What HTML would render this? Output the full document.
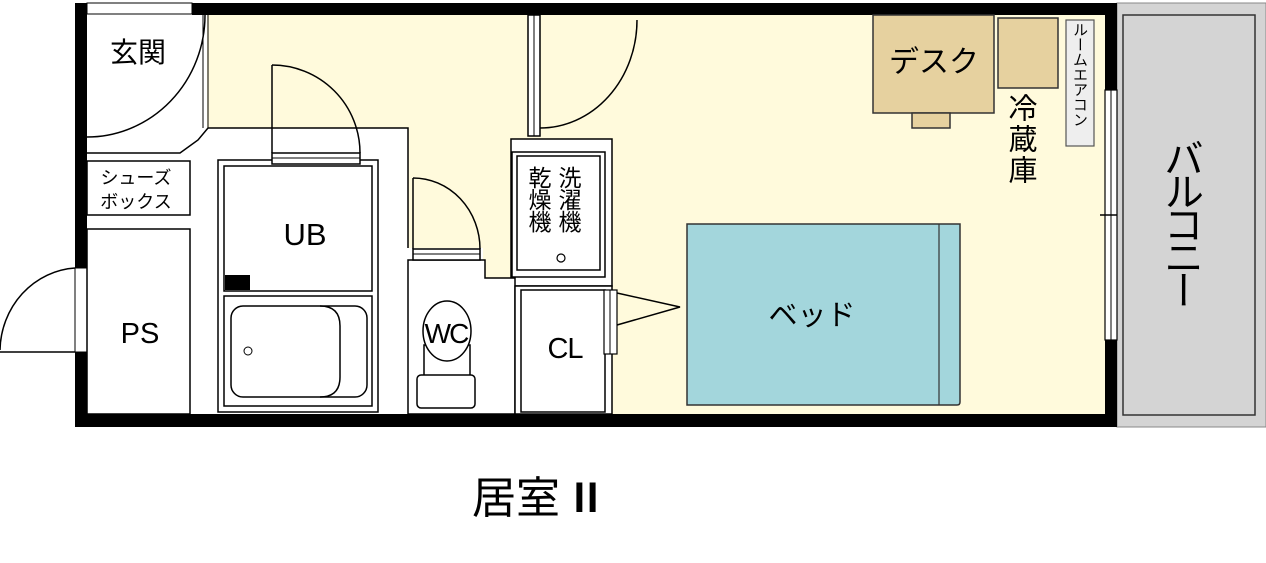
<!DOCTYPE html>
<html><head><meta charset="utf-8"><style>
html,body{margin:0;padding:0;background:#fff;}
body{position:relative;width:1266px;height:563px;overflow:hidden;}
svg{display:block;position:absolute;left:0;top:0;}
text{font-family:"Liberation Sans","Noto Sans CJK JP",sans-serif;fill:#000;}
.v{position:absolute;writing-mode:vertical-rl;text-orientation:upright;font-family:"Noto Sans CJK JP",sans-serif;color:#000;white-space:nowrap;}
</style></head><body>
<svg width="1266" height="563" viewBox="0 0 1266 563" xmlns="http://www.w3.org/2000/svg">
<rect x="1117" y="3" width="149" height="424" fill="#d4d4d4" stroke="#888" stroke-width="1"/>
<rect x="1123" y="15" width="132" height="400" fill="none" stroke="#333" stroke-width="1.5"/>
<rect x="87" y="15" width="1018" height="399" fill="#fffadc"/>
<polygon points="87,15 207,15 207,128 408,128 408,248 483,248 483,278 515,278 515,286 612,286 612,414 87,414" fill="#fff"/>
<polygon points="511,139 612,139 612,286 511,286" fill="#fff" stroke="#000" stroke-width="1.5"/>
<rect x="75" y="3" width="12" height="424" fill="#000"/>
<rect x="192" y="3" width="925" height="12" fill="#000"/>
<rect x="75" y="414" width="1042" height="13" fill="#000"/>
<rect x="1105" y="3" width="12" height="424" fill="#000"/>
<rect x="87" y="3" width="105" height="11" fill="#fff" stroke="#000" stroke-width="1"/>
<rect x="75" y="268" width="12" height="84" fill="#fff" stroke="#000" stroke-width="1"/>
<path d="M75,268 A80,84 0 0 0 0,350" fill="none" stroke="#000" stroke-width="1.5"/>
<line x1="0" y1="352" x2="75" y2="352" stroke="#000" stroke-width="1.5"/>
<path d="M205,15 A118,122 0 0 1 87,137" fill="none" stroke="#000" stroke-width="1.5"/>
<line x1="203" y1="15" x2="203" y2="128" stroke="#000" stroke-width="1"/>
<line x1="208" y1="15" x2="208" y2="128" stroke="#000" stroke-width="1"/>
<polyline points="208,128 198,140 180,153 87,153" fill="none" stroke="#000" stroke-width="1.5"/>
<polyline points="208,128 408,128 408,248" fill="none" stroke="#000" stroke-width="1.5"/>
<text x="138" y="62" font-size="28" text-anchor="middle">玄関</text>
<rect x="87" y="161" width="103" height="54" fill="#fff" stroke="#000" stroke-width="1.5"/>
<text x="136" y="184" font-size="18" text-anchor="middle">シューズ</text>
<text x="136" y="208" font-size="18" text-anchor="middle">ボックス</text>
<rect x="87" y="229" width="103" height="185" fill="#fff" stroke="#000" stroke-width="1.5"/>
<text x="140" y="343" font-size="29" text-anchor="middle">PS</text>
<rect x="218" y="160" width="160" height="252" fill="#fff" stroke="#000" stroke-width="1.5"/>
<rect x="224" y="166" width="148" height="125" fill="#fff" stroke="#000" stroke-width="1.5"/>
<rect x="224" y="296" width="148" height="110" fill="#fff" stroke="#000" stroke-width="1.5"/>
<rect x="231" y="306" width="136" height="91" rx="12" fill="#fff" stroke="#000" stroke-width="1.5"/>
<path d="M320,306 Q340,306 340,326 L340,377 Q340,397 320,397" fill="none" stroke="#000" stroke-width="1.5"/>
<rect x="225" y="275" width="25" height="15" fill="#000"/>
<circle cx="248" cy="351" r="4" fill="#fff" stroke="#000" stroke-width="1"/>
<text x="305" y="245" font-size="31" text-anchor="middle">UB</text>
<rect x="272" y="153" width="88" height="11" fill="#fff" stroke="#000" stroke-width="1.5"/>
<line x1="272" y1="158" x2="360" y2="158" stroke="#000" stroke-width="1"/>
<line x1="272" y1="65" x2="272" y2="153" stroke="#000" stroke-width="1.5"/>
<path d="M272,65 A88,88 0 0 1 360,153" fill="none" stroke="#000" stroke-width="1.5"/>
<polygon points="408,260 485,260 485,278 515,278 515,414 408,414" fill="#fff" stroke="#000" stroke-width="1.5"/>
<rect x="413" y="249" width="67" height="11" fill="#fff" stroke="#000" stroke-width="1.5"/>
<line x1="413" y1="254" x2="480" y2="254" stroke="#000" stroke-width="1"/>
<line x1="413" y1="178" x2="413" y2="249" stroke="#000" stroke-width="1.5"/>
<path d="M413,178 A67,71 0 0 1 480,249" fill="none" stroke="#000" stroke-width="1.5"/>
<rect x="424" y="345" width="46" height="34" fill="#fff" stroke="#000" stroke-width="1.5"/>
<ellipse cx="447" cy="331" rx="24" ry="30" fill="#fff" stroke="#000" stroke-width="1.5"/>
<rect x="417" y="375" width="58" height="33" rx="4" fill="#fff" stroke="#000" stroke-width="1.5"/>
<text x="446" y="343" font-size="28" text-anchor="middle" letter-spacing="-2">WC</text>
<rect x="512" y="152" width="93" height="125" fill="#fff" stroke="#000" stroke-width="1.5"/>
<rect x="517" y="156" width="83" height="114" fill="#fff" stroke="#000" stroke-width="1.5"/>
<circle cx="561" cy="258" r="4" fill="#fff" stroke="#000" stroke-width="1.2"/>
<rect x="528" y="15" width="12" height="121" fill="#fff" stroke="#000" stroke-width="1.5"/>
<line x1="534" y1="15" x2="534" y2="136" stroke="#000" stroke-width="1"/>
<path d="M637,20 A97,108 0 0 1 540,128" fill="none" stroke="#000" stroke-width="1.5"/>
<rect x="515" y="286" width="97" height="128" fill="#fff" stroke="#000" stroke-width="1.5"/>
<rect x="521" y="290" width="84" height="122" fill="#fff" stroke="#000" stroke-width="1.5"/>
<rect x="604" y="290" width="13" height="64" fill="#fff" stroke="#000" stroke-width="1.2"/>
<line x1="610" y1="290" x2="610" y2="354" stroke="#000" stroke-width="1"/>
<polyline points="617,293 680,307 617,325" fill="none" stroke="#000" stroke-width="1.5"/>
<text x="565" y="358" font-size="29" text-anchor="middle" letter-spacing="-1">CL</text>
<path d="M687,224 L960,224 L960,402 Q960,405 957,405 L687,405 Z" fill="#a3d6dc" stroke="#333" stroke-width="1.5"/>
<line x1="939" y1="224" x2="939" y2="405" stroke="#333" stroke-width="1.2"/>
<text x="812" y="325" font-size="29" text-anchor="middle">ベッド</text>
<rect x="873" y="15" width="121" height="98" fill="#e6d19f" stroke="#333" stroke-width="1.5"/>
<rect x="912" y="113" width="38" height="15" fill="#e6d19f" stroke="#333" stroke-width="1.5"/>
<text x="934" y="72" font-size="30" text-anchor="middle">デスク</text>
<rect x="998" y="18" width="60" height="70" fill="#e6d19f" stroke="#333" stroke-width="1.5"/>
<rect x="1066" y="20" width="28" height="126" fill="#eee" stroke="#555" stroke-width="1.2"/>
<rect x="1105" y="90" width="12" height="250" fill="#fff" stroke="#000" stroke-width="1.2"/>
<line x1="1111" y1="90" x2="1111" y2="340" stroke="#000" stroke-width="1"/>
<line x1="1100" y1="215" x2="1117" y2="215" stroke="#000" stroke-width="1.5"/>
<text x="472" y="513" font-size="44">居室</text>
<text x="566" y="512" font-size="40" font-family="Liberation Serif, serif" font-weight="bold">Ⅱ</text>
</svg>
<div class="v" style="left:557px;top:166px;font-size:23px;line-height:25px;letter-spacing:-1px;">洗濯機</div>
<div class="v" style="left:527px;top:166px;font-size:23px;line-height:25px;letter-spacing:-1px;">乾燥機</div>
<div class="v" style="left:1008px;top:93px;font-size:29px;line-height:30px;letter-spacing:2px;">冷蔵庫</div>
<div class="v" style="left:1071px;top:22px;font-size:15px;line-height:18px;">ルームエアコン</div>
<div class="v" style="left:1163px;top:138px;font-size:40px;line-height:42px;letter-spacing:-7px;">バルコニー</div>
</body></html>
